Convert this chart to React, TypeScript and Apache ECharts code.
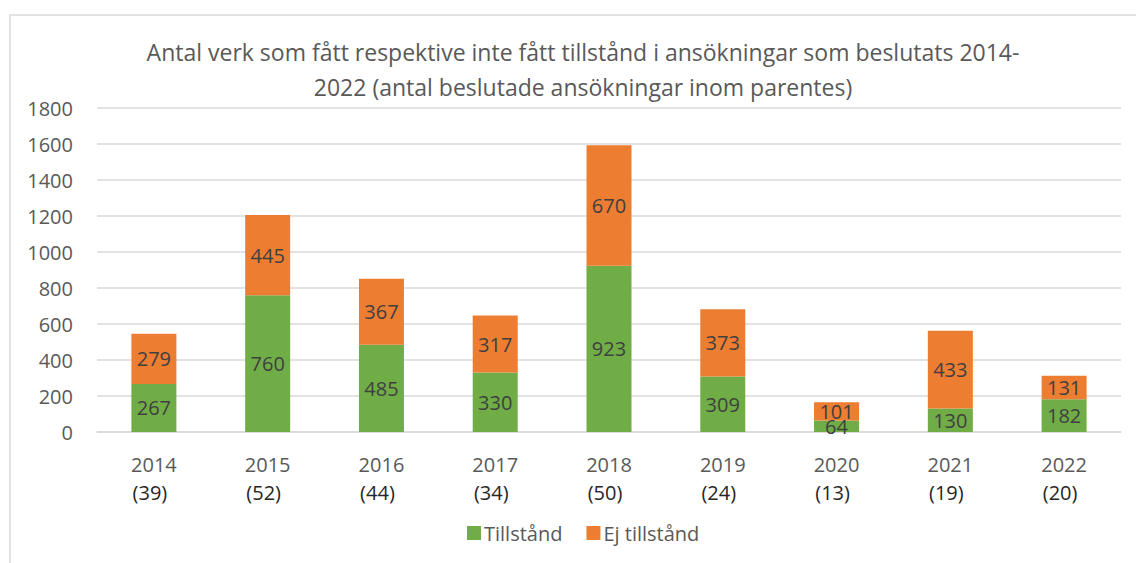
import React, { useEffect, useRef } from "react";
import * as echarts from "echarts";

const years = ["2014", "2015", "2016", "2017", "2018", "2019", "2020", "2021", "2022"];
const applications = [39, 52, 44, 34, 50, 24, 13, 19, 20];
const granted = [267, 760, 485, 330, 923, 309, 64, 130, 182];
const denied = [279, 445, 367, 317, 670, 373, 101, 433, 131];
const titleText =
  "Antal verk som fått respektive inte fått tillstånd i ansökningar som beslutats 2014-\n2022 (antal beslutade ansökningar inom parentes)";

const FONT = "'Open Sans', 'Noto Sans', sans-serif";

export default function App() {
  const ref = useRef<HTMLDivElement>(null);
  useEffect(() => {
    if (!ref.current) return;
    const chart = echarts.init(ref.current, null, { renderer: "svg" });
    const categories = years.map((y, i) => `${y}\n(${applications[i]})`);
    chart.setOption({
      animation: false,
      textStyle: { fontFamily: FONT },
      graphic: [
        {
          type: "rect",
          shape: { x: 10, y: 15, width: 1140, height: 570 },
          style: { fill: "none", stroke: "#D9D9D9", lineWidth: 1.5 },
          silent: true,
          z: -10,
        },
      ],
      title: {
        text: titleText,
        left: 578,
        top: 29,
        textAlign: "center",
        textStyle: {
          fontFamily: FONT,
          fontSize: 23,
          fontWeight: "normal",
          color: "#595959",
          lineHeight: 35,
        },
      },
      legend: {
        bottom: 15,
        left: 462,
        itemWidth: 14,
        itemHeight: 14,
        itemGap: 24,
        icon: "rect",
        textStyle: { fontFamily: FONT, fontSize: 20, color: "#595959", padding: [0, 0, 0, -2] },
        data: ["Tillstånd", "Ej tillstånd"],
      },
      grid: { left: 97, right: 15, top: 108, bottom: 131, containLabel: false },
      xAxis: {
        type: "category",
        data: categories,
        axisLine: { lineStyle: { color: "#D9D9D9", width: 1.5 } },
        axisTick: { show: false },
        axisLabel: {
          margin: 18,
          formatter: (v: string) => {
            const [y, c] = v.split("\n");
            return `{y|${y}}\n{c|${c}}`;
          },
          rich: {
            y: { fontFamily: FONT, fontSize: 20, color: "#595959", lineHeight: 28 },
            c: { fontFamily: FONT, fontSize: 20, color: "#262626", lineHeight: 28, padding: [0, 8, 0, 0] },
          },
        },
      },
      yAxis: {
        type: "value",
        min: 0,
        max: 1800,
        interval: 200,
        axisLine: { show: false },
        axisTick: { show: false },
        splitLine: { lineStyle: { color: "#D9D9D9", width: 1.5 } },
        axisLabel: {
          fontFamily: FONT,
          fontSize: 20,
          color: "#595959",
          margin: 24,
          formatter: (v: number) => String(v),
        },
      },
      series: [
        {
          name: "Tillstånd",
          type: "bar",
          stack: "total",
          barWidth: 45,
          data: granted,
          itemStyle: { color: "#70AD47" },
          label: {
            show: true,
            position: "inside",
            fontFamily: FONT,
            fontSize: 20,
            color: "#404040",
          },
        },
        {
          name: "Ej tillstånd",
          type: "bar",
          stack: "total",
          barWidth: 45,
          data: denied,
          itemStyle: { color: "#ED7D31" },
          label: {
            show: true,
            position: "inside",
            fontFamily: FONT,
            fontSize: 20,
            color: "#404040",
          },
        },
      ],
    });
    return () => chart.dispose();
  }, []);
  return (
    <div
      ref={ref}
      style={{ position: "fixed", left: 0, top: 0, width: 1136, height: 563, background: "#fff" }}
    />
  );
}
